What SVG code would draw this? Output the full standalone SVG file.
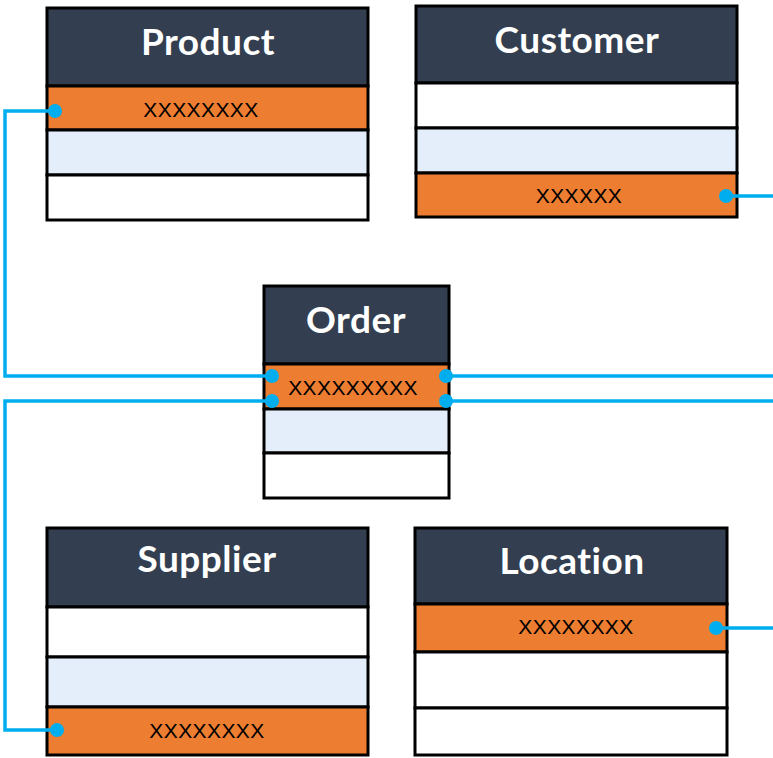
<svg xmlns="http://www.w3.org/2000/svg" width="773" height="758" viewBox="0 0 773 758">
<style>
.hd{fill:#333F50;stroke:#000;stroke-width:3}
.pk{fill:#ED7D31;stroke:#000;stroke-width:3}
.lb{fill:#E4EEFA;stroke:#000;stroke-width:3}
.wh{fill:#FFFFFF;stroke:#000;stroke-width:3}
.tt{font-family:Lato,"Open Sans",sans-serif;font-weight:700;font-size:37px;letter-spacing:0.5px;fill:#FFFFFF;text-anchor:middle}
.fd{font-family:"Liberation Sans",Arial,sans-serif;font-size:21px;letter-spacing:0.4px;fill:#000;text-anchor:middle}
.ln{fill:none;stroke:#00AEEF;stroke-width:3.5}
.dt{fill:#00AEEF}
</style>
<rect width="773" height="758" fill="#FFFFFF"/>
<g id="product">
<rect class="hd" x="47" y="8" width="321" height="78"/>
<rect class="pk" x="47" y="86" width="321" height="44"/>
<rect class="lb" x="47" y="130" width="321" height="45"/>
<rect class="wh" x="47" y="175" width="321" height="45"/>
<text class="tt" x="208" y="55">Product</text>
<text class="fd" x="201" y="117">XXXXXXXX</text>
</g>
<g id="customer">
<rect class="hd" x="416" y="6" width="321" height="77"/>
<rect class="wh" x="416" y="83" width="321" height="45"/>
<rect class="lb" x="416" y="128" width="321" height="45"/>
<rect class="pk" x="416" y="173" width="321" height="44"/>
<text class="tt" x="577" y="53">Customer</text>
<text class="fd" x="579" y="203">XXXXXX</text>
</g>
<g id="order">
<rect class="hd" x="264" y="286" width="185" height="78"/>
<rect class="pk" x="264" y="364" width="185" height="45"/>
<rect class="lb" x="264" y="409" width="185" height="44"/>
<rect class="wh" x="264" y="453" width="185" height="45"/>
<text class="tt" x="356" y="333">Order</text>
<text class="fd" x="353" y="395">XXXXXXXXX</text>
</g>
<g id="supplier">
<rect class="hd" x="47" y="528" width="321" height="79"/>
<rect class="wh" x="47" y="607" width="321" height="50"/>
<rect class="lb" x="47" y="657" width="321" height="50"/>
<rect class="pk" x="47" y="707" width="321" height="48"/>
<text class="tt" x="207" y="572">Supplier</text>
<text class="fd" x="207" y="738">XXXXXXXX</text>
</g>
<g id="location">
<rect class="hd" x="415" y="528" width="312" height="76"/>
<rect class="pk" x="415" y="604" width="312" height="48"/>
<rect class="wh" x="415" y="652" width="312" height="56"/>
<rect class="wh" x="415" y="708" width="312" height="47"/>
<text class="tt" x="572" y="574">Location</text>
<text class="fd" x="576" y="634">XXXXXXXX</text>
</g>
<g id="connectors">
<polyline class="ln" points="55,111 5,111 5,376 272,376"/>
<polyline class="ln" points="57,730 5,730 5,401 272,401"/>
<line class="ln" x1="446" y1="376" x2="773" y2="376"/>
<line class="ln" x1="446" y1="401" x2="773" y2="401"/>
<line class="ln" x1="726" y1="196" x2="773" y2="196"/>
<line class="ln" x1="716" y1="628" x2="773" y2="628"/>
<circle class="dt" cx="55" cy="111" r="7"/>
<circle class="dt" cx="57" cy="730" r="7"/>
<circle class="dt" cx="272" cy="376" r="7"/>
<circle class="dt" cx="272" cy="401" r="7"/>
<circle class="dt" cx="446" cy="376" r="7"/>
<circle class="dt" cx="446" cy="401" r="7"/>
<circle class="dt" cx="726" cy="196" r="7"/>
<circle class="dt" cx="716" cy="628" r="7"/>
</g>
</svg>
